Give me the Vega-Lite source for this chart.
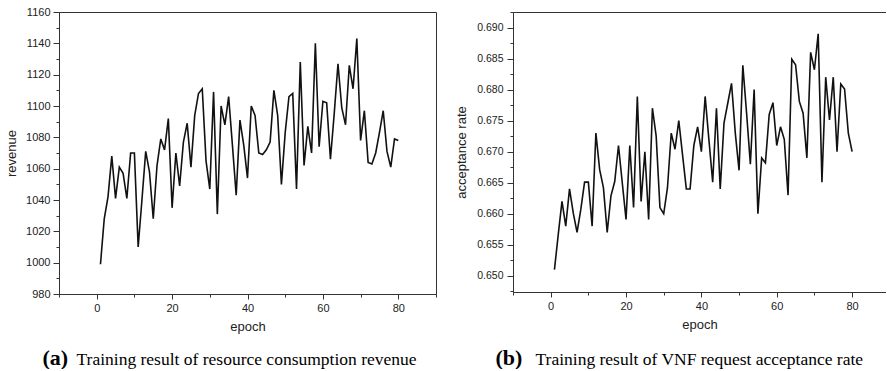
{
  "$schema": "https://vega.github.io/schema/vega-lite/v6.json",
  "padding": {"left": 5, "top": 5, "right": 0, "bottom": 0},
  "background": "white",
  "bounds": "flush",
  "spacing": 77,
  "config": {
    "view": {"stroke": "#333", "strokeWidth": 1},
    "axis": {
      "grid": false,
      "labelFont": "Liberation Sans",
      "titleFont": "Liberation Sans",
      "labelColor": "#222",
      "titleColor": "#222",
      "domainColor": "#333",
      "tickColor": "#333",
      "titleFontWeight": "normal",
      "labelFontSize": 11,
      "titleFontSize": 13
    }
  },
  "datasets": {
    "revenue": [
      {"epoch":1,"value":999},{"epoch":2,"value":1028},{"epoch":3,"value":1042},{"epoch":4,"value":1068},{"epoch":5,"value":1041},
      {"epoch":6,"value":1061},{"epoch":7,"value":1057},{"epoch":8,"value":1041},{"epoch":9,"value":1070},{"epoch":10,"value":1070},
      {"epoch":11,"value":1010},{"epoch":12,"value":1040},{"epoch":13,"value":1071},{"epoch":14,"value":1058},{"epoch":15,"value":1028},
      {"epoch":16,"value":1062},{"epoch":17,"value":1079},{"epoch":18,"value":1072},{"epoch":19,"value":1092},{"epoch":20,"value":1035},
      {"epoch":21,"value":1070},{"epoch":22,"value":1049},{"epoch":23,"value":1077},{"epoch":24,"value":1089},{"epoch":25,"value":1061},
      {"epoch":26,"value":1094},{"epoch":27,"value":1108},{"epoch":28,"value":1111},{"epoch":29,"value":1065},{"epoch":30,"value":1047},
      {"epoch":31,"value":1109},{"epoch":32,"value":1031},{"epoch":33,"value":1100},{"epoch":34,"value":1088},{"epoch":35,"value":1106},
      {"epoch":36,"value":1075},{"epoch":37,"value":1043},{"epoch":38,"value":1091},{"epoch":39,"value":1075},{"epoch":40,"value":1054},
      {"epoch":41,"value":1100},{"epoch":42,"value":1094},{"epoch":43,"value":1070},{"epoch":44,"value":1069},{"epoch":45,"value":1072},
      {"epoch":46,"value":1077},{"epoch":47,"value":1110},{"epoch":48,"value":1094},{"epoch":49,"value":1050},{"epoch":50,"value":1083},
      {"epoch":51,"value":1106},{"epoch":52,"value":1108},{"epoch":53,"value":1047},{"epoch":54,"value":1128},{"epoch":55,"value":1062},
      {"epoch":56,"value":1087},{"epoch":57,"value":1070},{"epoch":58,"value":1140},{"epoch":59,"value":1074},{"epoch":60,"value":1103},
      {"epoch":61,"value":1102},{"epoch":62,"value":1066},{"epoch":63,"value":1095},{"epoch":64,"value":1127},{"epoch":65,"value":1099},
      {"epoch":66,"value":1088},{"epoch":67,"value":1126},{"epoch":68,"value":1111},{"epoch":69,"value":1143},{"epoch":70,"value":1078},
      {"epoch":71,"value":1097},{"epoch":72,"value":1064},{"epoch":73,"value":1063},{"epoch":74,"value":1070},{"epoch":75,"value":1083},
      {"epoch":76,"value":1097},{"epoch":77,"value":1071},{"epoch":78,"value":1061},{"epoch":79,"value":1079},{"epoch":80,"value":1078}
    ],
    "acceptance": [
      {"epoch":1,"value":0.651},{"epoch":2,"value":0.6566},{"epoch":3,"value":0.662},{"epoch":4,"value":0.658},{"epoch":5,"value":0.664},
      {"epoch":6,"value":0.6601},{"epoch":7,"value":0.657},{"epoch":8,"value":0.6607},{"epoch":9,"value":0.6651},{"epoch":10,"value":0.6651},
      {"epoch":11,"value":0.658},{"epoch":12,"value":0.673},{"epoch":13,"value":0.6671},{"epoch":14,"value":0.6642},{"epoch":15,"value":0.657},
      {"epoch":16,"value":0.6629},{"epoch":17,"value":0.6652},{"epoch":18,"value":0.671},{"epoch":19,"value":0.665},{"epoch":20,"value":0.6591},
      {"epoch":21,"value":0.671},{"epoch":22,"value":0.661},{"epoch":23,"value":0.6789},{"epoch":24,"value":0.662},{"epoch":25,"value":0.670},
      {"epoch":26,"value":0.6591},{"epoch":27,"value":0.677},{"epoch":28,"value":0.6725},{"epoch":29,"value":0.661},{"epoch":30,"value":0.660},
      {"epoch":31,"value":0.6642},{"epoch":32,"value":0.673},{"epoch":33,"value":0.6704},{"epoch":34,"value":0.675},{"epoch":35,"value":0.6695},
      {"epoch":36,"value":0.664},{"epoch":37,"value":0.664},{"epoch":38,"value":0.671},{"epoch":39,"value":0.674},{"epoch":40,"value":0.670},
      {"epoch":41,"value":0.6789},{"epoch":42,"value":0.6719},{"epoch":43,"value":0.6651},{"epoch":44,"value":0.677},{"epoch":45,"value":0.664},
      {"epoch":46,"value":0.6746},{"epoch":47,"value":0.6778},{"epoch":48,"value":0.681},{"epoch":49,"value":0.673},{"epoch":50,"value":0.667},
      {"epoch":51,"value":0.6839},{"epoch":52,"value":0.6762},{"epoch":53,"value":0.668},{"epoch":54,"value":0.680},{"epoch":55,"value":0.660},
      {"epoch":56,"value":0.669},{"epoch":57,"value":0.6682},{"epoch":58,"value":0.676},{"epoch":59,"value":0.6779},{"epoch":60,"value":0.671},
      {"epoch":61,"value":0.674},{"epoch":62,"value":0.672},{"epoch":63,"value":0.663},{"epoch":64,"value":0.6849},{"epoch":65,"value":0.684},
      {"epoch":66,"value":0.6781},{"epoch":67,"value":0.6762},{"epoch":68,"value":0.669},{"epoch":69,"value":0.686},{"epoch":70,"value":0.6832},
      {"epoch":71,"value":0.689},{"epoch":72,"value":0.6651},{"epoch":73,"value":0.682},{"epoch":74,"value":0.6751},{"epoch":75,"value":0.682},
      {"epoch":76,"value":0.670},{"epoch":77,"value":0.6809},{"epoch":78,"value":0.6801},{"epoch":79,"value":0.673},{"epoch":80,"value":0.670}
    ]
  },
  "hconcat": [
    {
      "width": 377,
      "height": 282,
      "data": {"name": "revenue"},
      "layer": [
        {
          "mark": {"type": "line", "color": "#111", "strokeWidth": 1.6},
          "encoding": {
            "x": {"field": "epoch", "type": "quantitative", "scale": {"domain": [-10, 90], "nice": false, "zero": false},
                  "axis": {"orient": "bottom", "values": [0, 20, 40, 60, 80], "tickSize": 5, "labelPadding": 3, "title": "epoch", "titlePadding": 7}},
            "y": {"field": "value", "type": "quantitative", "scale": {"domain": [980, 1160], "nice": false, "zero": false},
                  "axis": {"orient": "left", "values": [980, 1000, 1020, 1040, 1060, 1080, 1100, 1120, 1140, 1160], "format": "d", "tickSize": 6, "labelPadding": 3, "title": "revenue", "titlePadding": 7}}
          }
        },
        {
          "mark": {"type": "line", "opacity": 0},
          "encoding": {
            "x": {"field": "epoch", "type": "quantitative",
                  "axis": {"orient": "bottom", "values": [-10, 10, 30, 50, 70, 90], "tickSize": 3, "labels": false, "domain": false,
                           "title": "(a)", "titleFont": "Liberation Serif", "titleFontWeight": "bold", "titleFontSize": 22, "titleColor": "black",
                           "titleX": -17, "titleY": 70, "titleAlign": "left", "titleBaseline": "alphabetic"}},
            "y": {"field": "value", "type": "quantitative",
                  "axis": {"orient": "left", "values": [990, 1010, 1030, 1050, 1070, 1090, 1110, 1130, 1150], "tickSize": 3, "labels": false, "domain": false, "title": null}}
          }
        },
        {
          "mark": {"type": "line", "opacity": 0},
          "encoding": {
            "x": {"field": "epoch", "type": "quantitative",
                  "axis": {"orient": "bottom", "ticks": false, "labels": false, "domain": false,
                           "title": "Training result of resource consumption revenue", "titleFont": "Liberation Serif", "titleFontWeight": "normal", "titleFontSize": 17.5, "titleColor": "black",
                           "titleX": 17, "titleY": 70, "titleAlign": "left", "titleBaseline": "alphabetic"}},
            "y": {"field": "value", "type": "quantitative", "axis": null}
          }
        }
      ],
      "resolve": {"axis": {"x": "independent", "y": "independent"}}
    },
    {
      "width": 373,
      "height": 280,
      "data": {"name": "acceptance"},
      "view": {"stroke": null},
      "layer": [
        {
          "mark": {"type": "line", "color": "#111", "strokeWidth": 1.6},
          "encoding": {
            "x": {"field": "epoch", "type": "quantitative", "scale": {"domain": [-10, 89], "nice": false, "zero": false},
                  "axis": {"orient": "bottom", "values": [0, 20, 40, 60, 80], "tickSize": 5, "labelPadding": 3, "title": "epoch", "titlePadding": 7}},
            "y": {"field": "value", "type": "quantitative", "scale": {"domain": [0.6474, 0.6925], "nice": false, "zero": false},
                  "axis": {"orient": "left", "values": [0.65, 0.655, 0.66, 0.665, 0.67, 0.675, 0.68, 0.685, 0.69], "format": ".3f", "labelFontSize": 10.5, "tickSize": 6, "labelPadding": 4, "title": "acceptance rate", "titlePadding": 8}}
          }
        },
        {
          "mark": {"type": "line", "opacity": 0},
          "encoding": {
            "x": {"field": "epoch", "type": "quantitative",
                  "axis": {"orient": "bottom", "values": [-10, 10, 30, 50, 70], "tickSize": 3, "labels": false, "domain": false,
                           "title": "(b)", "titleFont": "Liberation Serif", "titleFontWeight": "bold", "titleFontSize": 22, "titleColor": "black",
                           "titleX": -18, "titleY": 72, "titleAlign": "left", "titleBaseline": "alphabetic"}},
            "y": {"field": "value", "type": "quantitative",
                  "axis": {"orient": "left", "values": [0.6475, 0.6525, 0.6575, 0.6625, 0.6675, 0.6725, 0.6775, 0.6825, 0.6875, 0.6925], "tickSize": 3, "labels": false, "domain": false, "title": null}}
          }
        },
        {
          "mark": {"type": "line", "opacity": 0},
          "encoding": {
            "x": {"field": "epoch", "type": "quantitative",
                  "axis": {"orient": "bottom", "ticks": false, "labels": false, "domain": false,
                           "title": "Training result of VNF request acceptance rate", "titleFont": "Liberation Serif", "titleFontWeight": "normal", "titleFontSize": 17.5, "titleColor": "black",
                           "titleX": 22, "titleY": 72, "titleAlign": "left", "titleBaseline": "alphabetic"}},
            "y": {"field": "value", "type": "quantitative", "axis": null}
          }
        },
        {
          "mark": {"type": "line", "opacity": 0},
          "encoding": {
            "x": {"field": "epoch", "type": "quantitative",
                  "axis": {"orient": "top", "ticks": false, "labels": false, "domain": true, "title": null}},
            "y": {"field": "value", "type": "quantitative", "axis": null}
          }
        }
      ],
      "resolve": {"axis": {"x": "independent", "y": "independent"}}
    }
  ]
}
